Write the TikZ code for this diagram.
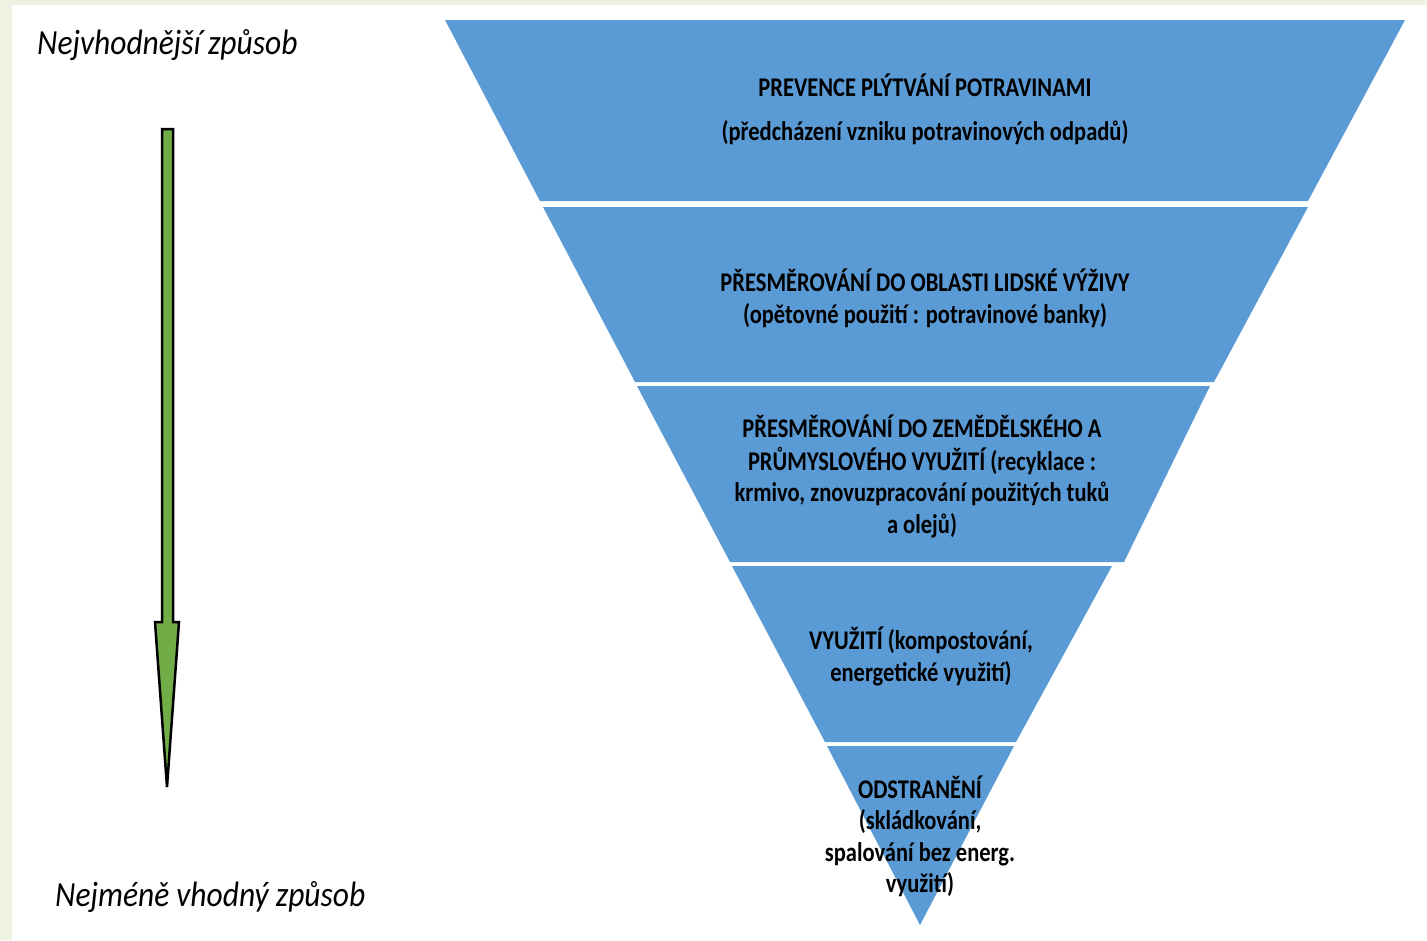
\documentclass[tikz,border=0pt]{standalone}
\usepackage{fontspec}
\setmainfont{Carlito}
\definecolor{layerblue}{HTML}{5B9BD5}
\definecolor{arrowgreen}{HTML}{70AD47}
\definecolor{framegreen}{HTML}{EEF2E1}
\newcommand{\tallbox}[1]{\scalebox{1}[1.2]{\begin{tabular}{@{}c@{}}#1\end{tabular}}}
\begin{document}
\begin{tikzpicture}[x=1pt,y=-1pt,
  layer/.style={fill=layerblue,draw=none},
  lbl/.style={font=\bfseries\fontsize{22.5}{26.25}\selectfont,align=center,text=black,inner sep=0pt},
  side/.style={font=\itshape\fontsize{31.5}{36}\selectfont,anchor=west,inner sep=0pt,text=black}]
\useasboundingbox (0,0) rectangle (1427,940);
\fill[framegreen] (0,0) rectangle (1427,940);
\fill[white] (12,5) rectangle (1427,940);
% layers
\fill[layer] (445,20) -- (1405,20) -- (1308,201) -- (540,201) -- cycle;
\fill[layer] (543,207) -- (1308,207) -- (1214,382) -- (635,382) -- cycle;
\fill[layer] (637,386) -- (1210,386) -- (1124,562) -- (730,562) -- cycle;
\fill[layer] (732,566) -- (1112,566) -- (1016,742) -- (825,742) -- cycle;
\fill[layer] (827,746) -- (1014,746) -- (920,925) -- cycle;
% texts
\node[lbl] (t1a) at (925,90) {\tallbox{PREVENCE PLÝTVÁNÍ POTRAVINAMI}};
\node[lbl] (t1b) at (925,134) {\tallbox{(předcházení vzniku potravinových odpadů)}};
\node[lbl] (t2) at (925,301) {\tallbox{PŘESMĚROVÁNÍ DO OBLASTI LIDSKÉ VÝŽIVY\\(opětovné použití : potravinové banky)}};
\node[lbl] (t3) at (922,479) {\tallbox{PŘESMĚROVÁNÍ DO ZEMĚDĚLSKÉHO A\\PRŮMYSLOVÉHO VYUŽITÍ (recyklace :\\krmivo, znovuzpracování použitých tuků\\a olejů)}};
\node[lbl] (t4) at (921,659) {\tallbox{VYUŽITÍ (kompostování,\\energetické využití)}};
\node[lbl] (t5) at (920,839) {\tallbox{ODSTRANĚNÍ\\(skládkování,\\spalování bez energ.\\využití)}};
% side labels
\node[side] (best) at (37,45) {\scalebox{1}[1.12]{Nejvhodnější způsob}};
\node[side] (worst) at (55,897) {\scalebox{1}[1.12]{Nejméně vhodný způsob}};
% arrow
\coordinate (atop) at (167.5,129);
\coordinate (atip) at (167,787);
\draw[fill=arrowgreen,draw=black,line width=2.5pt,line join=miter]
  (162,129) -- (173,129) -- (173,622) -- (179,622) -- (atip) -- (155,622) -- (162,622) -- cycle;
\end{tikzpicture}
\end{document}
